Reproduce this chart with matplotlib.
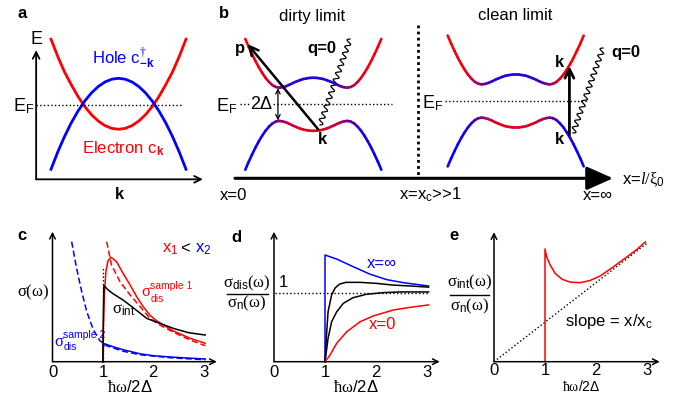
import numpy as np
import matplotlib
matplotlib.use('Agg')
import matplotlib.pyplot as plt
from matplotlib.collections import LineCollection

plt.rcParams['font.family'] = ['Liberation Sans', 'DejaVu Sans']
plt.rcParams['mathtext.fontset'] = 'custom'
plt.rcParams['mathtext.rm'] = 'Liberation Serif'
plt.rcParams['mathtext.it'] = 'Liberation Serif:italic'
plt.rcParams['mathtext.sf'] = 'Liberation Sans'
plt.rcParams['mathtext.bf'] = 'Liberation Sans:bold'

# ---------------- data ----------------
# panel a: normal-state bands, k >= 0 half (symmetric), energy relative to E_F
k_a = [0.0, 0.1, 0.2, 0.3, 0.4, 0.5, 0.6, 0.7, 0.8, 0.9, 1.0]
E_electron = [-0.27, -0.26, -0.23, -0.18, -0.11, -0.02, 0.09, 0.22, 0.36, 0.53, 0.72]
E_hole = [0.29, 0.28, 0.25, 0.20, 0.13, 0.04, -0.07, -0.20, -0.35, -0.52, -0.71]

# panel b: superconducting bands, k >= 0 half, energy in units of Delta
k_b = [0.0, 0.05, 0.1, 0.15, 0.2, 0.25, 0.3, 0.35, 0.4, 0.45, 0.5,
       0.55, 0.6, 0.65, 0.7, 0.75, 0.8, 0.85, 0.9, 0.95, 1.0]
E_band = [1.60, 1.59, 1.56, 1.52, 1.45, 1.37, 1.28, 1.18, 1.09, 1.03, 1.00,
          1.04, 1.15, 1.34, 1.58, 1.88, 2.22, 2.60, 3.02, 3.46, 3.94]
# electron-like weight of the upper band (1 = red, 0 = blue)
w_electron = [0.11, 0.11, 0.12, 0.12, 0.14, 0.16, 0.19, 0.23, 0.30, 0.39, 0.51,
              0.63, 0.75, 0.83, 0.89, 0.92, 0.95, 0.96, 0.97, 0.98, 0.98]

# panel c: sigma(omega), arbitrary units
w_dis1 = [1.0, 1.01, 1.03, 1.06, 1.10, 1.16, 1.27, 1.40, 1.54, 1.67, 1.80, 1.93, 2.07, 2.40, 2.73, 3.03]
s_dis1 = [0.0, 0.35, 0.68, 0.90, 1.01, 1.045, 1.0, 0.884, 0.767, 0.65, 0.55, 0.467, 0.407, 0.307, 0.234, 0.184]
w_drude1 = [1.075, 1.17, 1.34, 1.54, 1.74, 1.93, 2.13, 2.40, 2.73, 3.03]
s_drude1 = [1.20, 0.967, 0.80, 0.667, 0.55, 0.434, 0.367, 0.294, 0.217, 0.16]
w_int = [1.0, 1.01, 1.02, 1.1, 1.2, 1.40, 1.6, 1.87, 2.07, 2.40, 2.7, 3.03]
s_int = [0.0, 0.5, 0.76, 0.72, 0.68, 0.617, 0.54, 0.433, 0.395, 0.333, 0.29, 0.267]
w_drude2 = [0.38, 0.48, 0.58, 0.68, 0.81, 0.94, 1.07, 1.40, 1.73, 2.40, 3.03]
s_drude2 = [1.20, 0.93, 0.70, 0.50, 0.32, 0.21, 0.16, 0.105, 0.07, 0.037, 0.02]
w_dis2 = [1.0, 1.01, 1.03, 1.2, 1.4, 1.73, 2.0, 2.4, 3.03]
s_dis2 = [0.0, 0.15, 0.18, 0.15, 0.12, 0.08, 0.06, 0.045, 0.027]

# panel d: sigma_dis / sigma_n
w_inf = [1.0, 1.0, 1.23, 1.55, 1.88, 2.21, 2.54, 3.03]
r_inf = [0.0, 1.56, 1.50, 1.39, 1.28, 1.20, 1.155, 1.107]
w_mid1 = [1.0, 1.03, 1.06, 1.13, 1.20, 1.29, 1.41, 1.69, 2.01, 2.34, 2.67, 3.03]
r_mid1 = [0.0, 0.39, 0.73, 0.975, 1.08, 1.136, 1.16, 1.16, 1.145, 1.12, 1.107, 1.09]
w_mid2 = [1.0, 1.06, 1.13, 1.23, 1.36, 1.55, 1.81, 2.14, 2.47, 3.03]
r_mid2 = [0.0, 0.34, 0.585, 0.73, 0.854, 0.936, 0.985, 1.01, 1.02, 1.02]
w_zero = [1.0, 1.10, 1.23, 1.43, 1.69, 1.95, 2.34, 2.67, 3.03]
r_zero = [0.0, 0.098, 0.27, 0.44, 0.585, 0.67, 0.756, 0.795, 0.83]

# panel e: sigma_int / sigma_n
w_e = [1.0, 1.0, 1.03, 1.10, 1.20, 1.33, 1.49, 1.69, 1.88, 2.08, 2.34, 2.60, 2.80, 2.97]
r_e = [0.0, 2.21, 2.06, 1.90, 1.73, 1.62, 1.56, 1.55, 1.59, 1.68, 1.86, 2.05, 2.20, 2.35]
w_slope = [0.0, 3.02]
r_slope = [0.0, 2.34]

ticks = [0, 1, 2, 3]

# ---------------- figure ----------------
W, H = 679, 398
fig = plt.figure(figsize=(W / 100, H / 100), dpi=100)


def px_axes(cx, sx, cy, sy, xlim, ylim):
    # axes whose data origin sits at pixel (cx, cy), sx/sy pixels per unit
    x0 = cx + sx * xlim[0]
    x1 = cx + sx * xlim[1]
    ytop = cy - sy * ylim[1]
    ybot = cy - sy * ylim[0]
    ax = fig.add_axes([x0 / W, 1 - ybot / H, (x1 - x0) / W, (ybot - ytop) / H])
    ax.set_xlim(xlim)
    ax.set_ylim(ylim)
    ax.axis('off')
    return ax


def mirror(k, v, sign=1):
    k = np.asarray(k)
    v = np.asarray(v)
    return np.concatenate([-k[::-1], k[1:]]), np.concatenate([v[::-1], v[1:]]) * sign


def arrow(ax, xy0, xy1, lw=1.1, ms=10, style='->'):
    ax.annotate('', xy=xy1, xytext=xy0,
                arrowprops=dict(arrowstyle=style, lw=lw, color='black',
                                mutation_scale=ms, shrinkA=0, shrinkB=0))


def photon(ax, p0, p1, n, amp):
    p0 = np.array(p0, float)
    p1 = np.array(p1, float)
    t = np.linspace(0, 1, 500)
    d = p1 - p0
    nrm = np.array([-d[1], d[0]]) / np.hypot(*d)
    pts = p0 + np.outer(t, d) + np.outer(amp * np.sin(2 * np.pi * n * t), nrm)
    ax.plot(pts[:, 0], pts[:, 1], color='black', lw=0.9)


def bands(ax):
    kk, up = mirror(k_b, E_band)
    _, we = mirror(k_b, w_electron)
    for sign, w in ((1, we), (-1, 1 - we)):
        pts = np.column_stack([kk, sign * up])
        segs = np.stack([pts[:-1], pts[1:]], axis=1)
        wm = 0.5 * (w[:-1] + w[1:])
        cols = np.column_stack([wm, np.zeros_like(wm), 1 - wm])
        ax.add_collection(LineCollection(segs, colors=cols, linewidths=1.9,
                                         capstyle='round'))


def sigma_label(ax, x, y, sup, sub, color):
    # sigma with small sans super/subscripts, positions in pixels
    ax.text(x, y, r'$\mathrm{σ}$', color=color, ha='left', va='center', fontsize=12)
    ax.text(x + 9, y - 6, sup, color=color, ha='left', va='center', fontsize=7.5)
    ax.text(x + 9.5, y + 6.5, sub, color=color, ha='left', va='center', fontsize=7.5)


ov = fig.add_axes([0, 0, 1, 1])
ov.set_xlim(0, W)
ov.set_ylim(H, 0)
ov.axis('off')

# ---- panel a ----
ax_a = px_axes(118.5, 67.5, 104.7, 91, (-1.5, 1.5), (-1.0, 0.9))
ka, ee = mirror(k_a, E_electron)
_, hh = mirror(k_a, E_hole)
ax_a.plot(ka, ee, color='red', lw=2.0)
ax_a.plot(ka, hh, color='blue', lw=2.0)
arrow(ax_a, (-1.22, -0.82), (-1.22, 0.60), lw=1.3, ms=12)
arrow(ax_a, (-1.22, -0.82), (1.25, -0.82), lw=1.3, ms=12)
ax_a.plot([-1.22, 0.94], [0, 0], color='black', lw=1.0, ls=':')
ax_a.text(-1.22, 0.72, 'E', ha='center', va='center', fontsize=13)
ax_a.text(-1.25, -0.02, r'E$_\mathsf{F}$', ha='right', va='center', fontsize=13)
ax_a.text(-0.39, 0.51, r'Hole c$^{\dagger}_{\mathbf{-k}}$', color='blue',
          ha='left', va='center', fontsize=12)
ax_a.text(-0.54, -0.48, r'Electron c$_\mathbf{k}$', color='red',
          ha='left', va='center', fontsize=12)
ax_a.text(0.02, -0.99, 'k', fontweight='bold', ha='center', va='center', fontsize=12)
ov.text(22, 14, 'a', fontweight='bold', ha='center', va='center', fontsize=12)

# ---- panel b ----
ax_bl = px_axes(313.3, 68, 104.3, 16.6, (-1.3, 1.3), (-4.6, 4.6))
ax_br = px_axes(515.7, 68, 101, 16.6, (-1.3, 1.3), (-4.6, 4.6))
for ax in (ax_bl, ax_br):
    bands(ax)

ax_bl.plot([-1.08, 1.15], [0, 0], color='black', lw=1.0, ls=':')
ax_bl.text(-1.12, -0.1, r'E$_\mathsf{F}$', ha='right', va='center', fontsize=13)
ax_bl.text(-0.76, 0, '2Δ', ha='center', va='center', fontsize=13,
           bbox=dict(facecolor='white', edgecolor='none', pad=0.5))
arrow(ax_bl, (-0.52, -0.97), (-0.52, 0.97), lw=0.9, ms=8, style='<->')
arrow(ax_bl, (0.07, -1.5), (-0.965, 3.62), lw=1.8, ms=16)
ax_bl.text(-1.08, 3.39, 'p', fontweight='bold', ha='center', va='center', fontsize=12)
ax_bl.text(0.13, -2.15, 'k', fontweight='bold', ha='center', va='center', fontsize=12)
ax_bl.text(0.13, 3.39, 'q=0', fontweight='bold', ha='center', va='center', fontsize=12)

ax_br.plot([-1.04, 1.06], [0, 0], color='black', lw=1.0, ls=':')
ax_br.text(-1.07, -0.1, r'E$_\mathsf{F}$', ha='right', va='center', fontsize=13)
arrow(ax_br, (0.79, -2.05), (0.79, 2.1), lw=2.0, ms=16)
ax_br.text(0.65, 2.29, 'k', fontweight='bold', ha='center', va='center', fontsize=12)
ax_br.text(0.65, -2.29, 'k', fontweight='bold', ha='center', va='center', fontsize=12)

photon(ov, (320, 125), (350, 39), 13, 2.5)
photon(ov, (573, 133), (603, 48), 13, 2.5)
ov.text(626, 53, 'q=0', fontweight='bold', ha='center', va='center', fontsize=12)
ov.text(312, 16, 'dirty limit', ha='center', va='center', fontsize=12)
ov.text(515, 16, 'clean limit', ha='center', va='center', fontsize=12)
ov.text(224, 14, 'b', fontweight='bold', ha='center', va='center', fontsize=12)

ov.plot([418, 418], [25, 176], color='black', lw=2.0, ls=(0, (1, 1.2)))
ov.annotate('', xy=(613, 178.3), xytext=(235, 178.3),
            arrowprops=dict(arrowstyle='-|>,head_length=0.9,head_width=0.4',
                            lw=2.2, color='black', mutation_scale=18,
                            shrinkA=0, shrinkB=0))
ov.text(234, 195, 'x=0', ha='center', va='center', fontsize=12)
ov.text(430, 195, r'x=x$_\mathsf{c}$>>1', ha='center', va='center', fontsize=12)
ov.text(598, 195, 'x=∞', ha='center', va='center', fontsize=12)
ov.text(622, 180, r'x=$l/\mathrm{ξ}_\mathsf{0}$', ha='left', va='center', fontsize=12)

# ---- panel c ----
ax_c = px_axes(52.5, 50.4, 361.7, 100, (-0.3, 3.4), (-0.3, 1.4))
arrow(ax_c, (0, 0), (0, 1.30))
arrow(ax_c, (0, 0), (3.26, 0))
ax_c.plot([1, 1], [0, 0.94], color='black', lw=1.0, ls=':')
ax_c.plot(w_drude2, s_drude2, color='blue', lw=1.1, ls=(0, (4, 2)))
ax_c.plot(w_dis2, s_dis2, color='blue', lw=1.1)
ax_c.plot(w_drude1, s_drude1, color='red', lw=1.1, ls=(0, (4, 2)))
ax_c.plot(w_dis1, s_dis1, color='red', lw=1.1)
ax_c.plot(w_int, s_int, color='black', lw=1.1)
for t in ticks:
    ax_c.text(t, -0.108, str(t), ha='center', va='center', fontsize=12)
ax_c.text(1.54, -0.25, r'$\mathrm{ħω}$/2Δ', ha='center', va='center', fontsize=12)
ax_c.text(1.18, 0.51, r'$\mathrm{σ}_\mathsf{int}$', ha='left', va='center', fontsize=12)
sigma_label(ov, 141, 292, 'sample 1', 'dis', 'red')
sigma_label(ov, 54, 341, 'sample 2', 'dis', 'blue')
ov.text(33, 292, r'$\mathrm{σ(ω)}$', ha='center', va='center', fontsize=12)
ov.text(162, 249, r'x$_\mathsf{1}$', color='red', ha='left', va='center', fontsize=12)
ov.text(185, 249, '<', ha='center', va='center', fontsize=12)
ov.text(195, 249, r'x$_\mathsf{2}$', color='blue', ha='left', va='center', fontsize=12)
ov.text(22, 236, 'c', fontweight='bold', ha='center', va='center', fontsize=12)

# ---- panel d ----
ax_d = px_axes(274, 51, 361.7, 68.4, (-0.3, 3.4), (-0.4, 2.0))
arrow(ax_d, (0, 0), (0, 1.90))
arrow(ax_d, (0, 0), (3.25, 0))
ax_d.plot([0.02, 3.03], [1, 1], color='black', lw=1.0, ls=':')
ax_d.plot(w_inf, r_inf, color='blue', lw=1.1)
ax_d.plot(w_mid1, r_mid1, color='black', lw=1.1)
ax_d.plot(w_mid2, r_mid2, color='black', lw=1.1)
ax_d.plot(w_zero, r_zero, color='red', lw=1.1)
for t in ticks:
    ax_d.text(t, -0.158, str(t), ha='center', va='center', fontsize=12)
ax_d.text(1.61, -0.37, r'$\mathrm{ħω}$/2Δ', ha='center', va='center', fontsize=12)
ax_d.text(0.18, 1.165, '1', ha='center', va='center', fontsize=12)
ax_d.text(2.12, 1.44, 'x=∞', color='blue', ha='center', va='center', fontsize=12)
ax_d.text(2.12, 0.55, 'x=0', color='red', ha='center', va='center', fontsize=12)
ov.text(247, 283, r'$\mathrm{σ}_\mathsf{dis}\mathrm{(ω)}$', ha='center', va='center', fontsize=12)
ov.plot([227, 268], [294, 294], color='black', lw=1.0)
ov.text(247, 303, r'$\mathrm{σ}_\mathsf{n}\mathrm{(ω)}$', ha='center', va='center', fontsize=12)
ov.text(236, 237, 'd', fontweight='bold', ha='center', va='center', fontsize=12)

# ---- panel e ----
ax_e = px_axes(494, 51, 361.7, 51, (-0.3, 3.4), (-0.4, 2.7))
arrow(ax_e, (0, 0), (0, 2.54))
arrow(ax_e, (0, 0), (3.25, 0))
ax_e.plot(w_slope, r_slope, color='black', lw=1.0, ls=':')
ax_e.plot(w_e, r_e, color='red', lw=1.1)
for t in ticks:
    ax_e.text(t, -0.17, str(t), ha='center', va='center', fontsize=12)
ax_e.text(1.70, -0.49, r'$\mathrm{ħω}$/2Δ', ha='center', va='center', fontsize=10)
ax_e.text(1.39, 0.78, r'slope = x/x$_\mathsf{c}$', ha='left', va='center', fontsize=12)
ov.text(470, 282, r'$\mathrm{σ}_\mathsf{int}\mathrm{(ω)}$', ha='center', va='center', fontsize=12)
ov.plot([450, 489], [295, 295], color='black', lw=1.0)
ov.text(470, 306, r'$\mathrm{σ}_\mathsf{n}\mathrm{(ω)}$', ha='center', va='center', fontsize=12)
ov.text(454, 235, 'e', fontweight='bold', ha='center', va='center', fontsize=12)

fig.savefig('out.png', dpi=100)
